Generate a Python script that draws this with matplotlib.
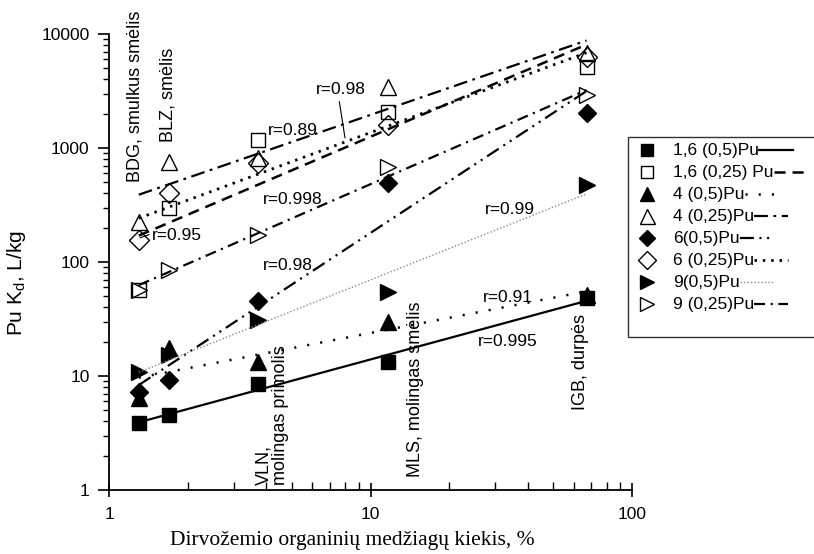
import numpy as np
import matplotlib
matplotlib.use('Agg')
import matplotlib.pyplot as plt
from matplotlib.lines import Line2D
from matplotlib.patches import Rectangle

plt.rcParams['font.family'] = ['Liberation Sans', 'DejaVu Sans']
plt.rcParams['lines.scale_dashes'] = False
plt.rcParams['mathtext.fontset'] = 'custom'
plt.rcParams['mathtext.rm'] = 'Liberation Sans'
plt.rcParams['mathtext.it'] = 'Liberation Sans'

# ---- data ----
organic = [1.3, 1.7, 3.7, 11.7, 67.0]
kd_16_05 = [3.9, 4.55, 8.5, 13.3, 48]
kd_16_025 = [57, 298, 1175, 2070, 5130]
kd_4_05 = [6.4, 17.6, 13.3, 29.8, 51]
kd_4_025 = [224, 754, 820, 3430, 6800]
kd_6_05 = [7.2, 9.2, 45.5, 493, 2030]
kd_6_025 = [156, 403, 738, 1590, 6270]
kd_9_05 = [10.8, 15.3, 31, 55, 473]
kd_9_025 = [57, 85, 173, 681, 2917]

series_labels = ['1,6 (0,5)Pu', '1,6 (0,25) Pu', '4 (0,5)Pu', '4 (0,25)Pu',
                 '6(0,5)Pu', '6 (0,25)Pu', '9(0,5)Pu', '9 (0,25)Pu']
series_values = [kd_16_05, kd_16_025, kd_4_05, kd_4_025,
                 kd_6_05, kd_6_025, kd_9_05, kd_9_025]

soil_labels = ['BDG, smulkus smėlis', 'BLZ, smėlis', 'VLN,\nmolingas primolis',
               'MLS, molingas smėlis', 'IGB, durpės']
r_labels = ['r=0.98', 'r=0.89', 'r=0.95', 'r=0.998', 'r=0.98', 'r=0.99', 'r=0.91', 'r=0.995']

# ---- styles ----
markers = ['s', 's', '^', '^', 'D', 'D', '>', '>']
filled = [True, False, True, False, True, False, True, False]
msizes = [9.5, 10, 11, 12, 9.5, 10, 11, 11]
linestyles = ['-', (0, (8, 5)), (0, (1.5, 8)), (0, (10, 4, 2, 4)),
              (0, (10, 4, 1.5, 4, 1.5, 4)), (0, (1.8, 4.2)), (0, (1, 1.5)), (0, (8, 4, 1.5, 4))]
lwidths = [1.6, 1.8, 1.8, 1.6, 1.6, 2.0, 1.0, 1.6]
lcolors = ['black'] * 6 + ['#888888', 'black']

W, H = 814, 554
FS = 12.5
fig = plt.figure(figsize=(W / 100, H / 100), dpi=100)
ax = fig.add_axes([109 / W, 1 - 490 / H, (632 - 109) / W, (490 - 34) / H])
ax.set_xscale('log')
ax.set_yscale('log')
ax.set_xlim(1, 100)
ax.set_ylim(1, 10000)

lx = np.log10(organic)
for vals, ls, lw, lc in zip(series_values, linestyles, lwidths, lcolors):
    ly = np.log10(vals)
    k, b = np.polyfit(lx, ly, 1)
    xf = np.array([organic[0], organic[-1]])
    yf = 10 ** (b + k * np.log10(xf))
    ax.plot(xf, yf, linestyle=ls, color=lc, lw=lw, zorder=3)
for vals, m, f, ms in zip(series_values, markers, filled, msizes):
    ax.plot(organic, vals, linestyle='none', marker=m, ms=ms,
            mfc='black' if f else 'none', mec='black', mew=1.0, zorder=2)

for s in ['top', 'right']:
    ax.spines[s].set_visible(False)
for s in ['left', 'bottom']:
    ax.spines[s].set_linewidth(1.3)

ax.set_xticks([1, 10, 100])
ax.set_xticklabels(['1', '10', '100'])
ax.set_yticks([1, 10, 100, 1000, 10000])
ax.set_yticklabels(['1', '10', '100', '1000', '10000'])
ax.tick_params(axis='x', which='major', direction='inout', length=10, width=1.2,
               labelsize=FS, pad=7)
ax.tick_params(axis='x', which='minor', direction='in', length=6, width=1.0)
ax.tick_params(axis='y', which='major', direction='out', length=8, width=1.2,
               labelsize=FS, pad=6)
ax.tick_params(axis='y', which='minor', direction='out', length=4, width=1.0)
ax.tick_params(axis='both', which='minor', labelleft=False, labelbottom=False)

fig.text(352 / W, 1 - 541 / H, 'Dirvožemio organinių medžiagų kiekis, %',
         family=['Liberation Serif'], fontsize=15.5, ha='center', va='center')
fig.text(17 / W, 1 - 283 / H, 'Pu K$_d$, L/kg', fontsize=15, rotation=90,
         ha='center', va='center')

# soil annotations (vertical)
tkw = dict(rotation=90, fontsize=13, ha='center', va='bottom')
ax.text(1.257, 500, soil_labels[0], **tkw)
ax.text(1.68, 1130, soil_labels[1], **tkw)
ax.text(4.2, 1.1, soil_labels[2], rotation=90, fontsize=13, ha='center',
        va='bottom', linespacing=1.0, multialignment='left')
ax.text(14.8, 1.3, soil_labels[3], **tkw)
ax.text(63.3, 5.0, soil_labels[4], **tkw)

# r labels
rk = dict(fontsize=FS, va='center', ha='left')
ax.annotate(r_labels[0], xy=(7.99, 1224), xytext=(6.2, 3230),
            arrowprops=dict(arrowstyle='-', lw=0.8, color='black', shrinkA=1, shrinkB=0,
                            relpos=(0.45, 0.0)), **rk)
ax.text(4.06, 1438, r_labels[1], **rk)
ax.annotate(r_labels[2], xy=(1.314, 163), xytext=(1.46, 172),
            arrowprops=dict(arrowstyle='-', lw=0.8, color='black', shrinkA=0, shrinkB=0,
                            relpos=(0.0, 0.6)), **rk)
ax.text(3.88, 350, r_labels[3], **rk)
ax.text(3.88, 94, r_labels[4], **rk)
ax.text(27.4, 286, r_labels[5], **rk)
ax.text(26.9, 49.3, r_labels[6], **rk)
ax.text(25.8, 19.9, r_labels[7], **rk)

# legend drawn manually (Origin style: marker, text, line sample)
fig.patches.append(Rectangle((628 / W, 1 - 337 / H), (W + 10 - 628) / W, (337 - 137) / H,
                             transform=fig.transFigure, fill=False, edgecolor='#333333',
                             lw=1.0, clip_on=False))
row_y = [150, 172, 194, 216, 238, 260, 282, 304]
fig.canvas.draw()
renderer = fig.canvas.get_renderer()
for i, lab in enumerate(series_labels):
    yy = 1 - row_y[i] / H
    fig.add_artist(Line2D([647 / W], [yy], marker=markers[i], ms=msizes[i] * 0.9,
                          mfc='black' if filled[i] else 'white', mec='black', mew=1.0,
                          linestyle='none', transform=fig.transFigure))
    t = fig.text(673 / W, yy, lab, fontsize=FS, va='center', ha='left')
    bb = t.get_window_extent(renderer)
    x0 = bb.x1 / W
    fig.add_artist(Line2D([x0, x0 + 34 / W], [yy, yy], linestyle=linestyles[i],
                          color=lcolors[i], lw=lwidths[i], transform=fig.transFigure))

fig.savefig('out.png', dpi=100)
